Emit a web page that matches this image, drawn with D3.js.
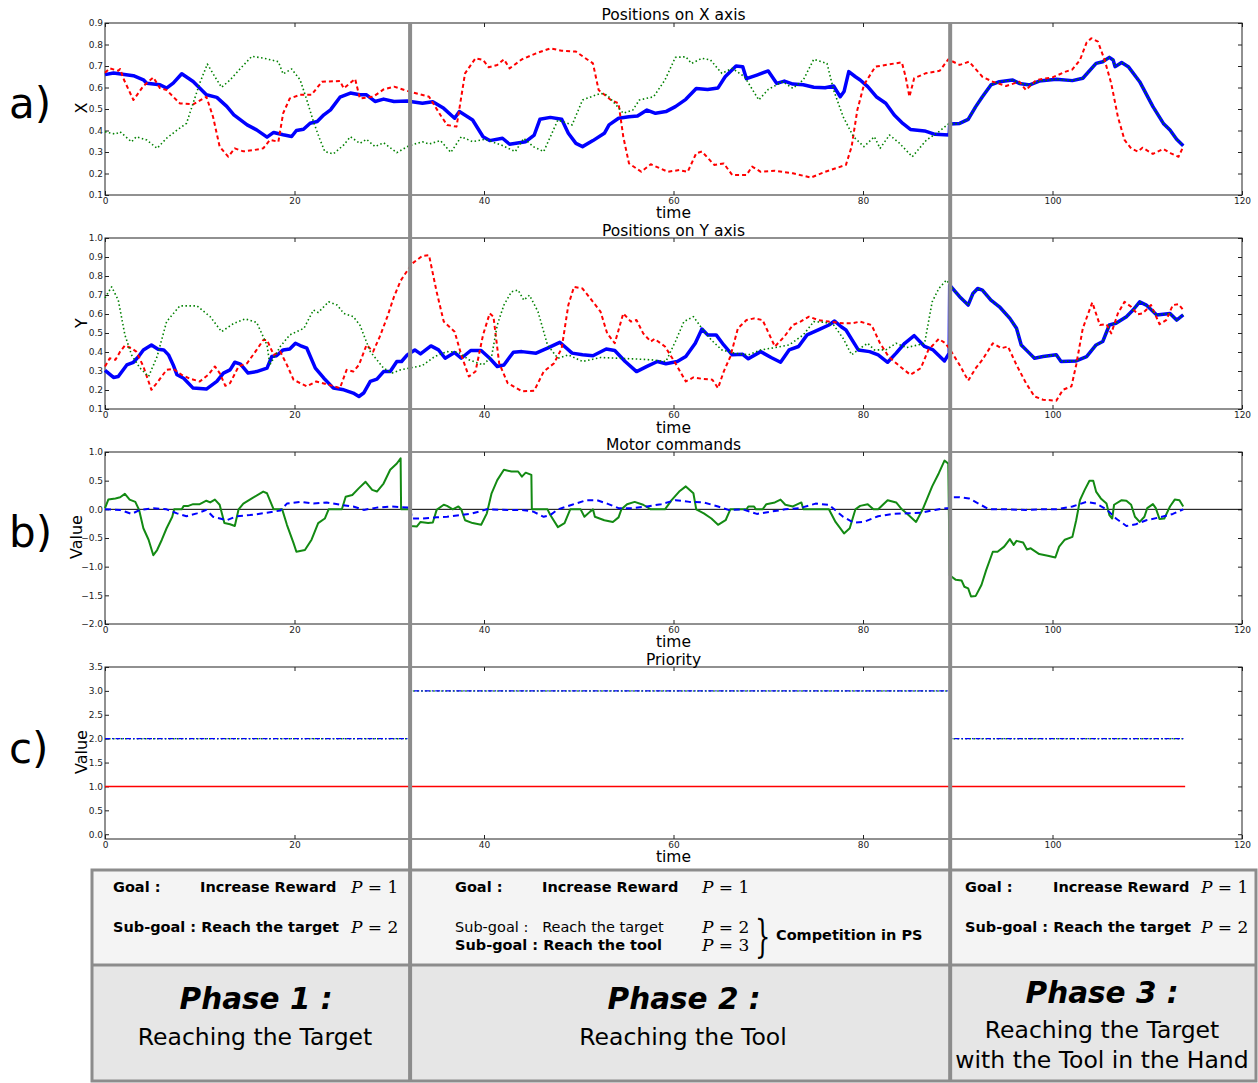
<!DOCTYPE html>
<html><head><meta charset="utf-8">
<script src="https://cdn.jsdelivr.net/npm/d3@7"></script>
<style>body{margin:0;background:#fff;} svg{display:block;font-family:"DejaVu Sans",sans-serif;}</style>
</head><body>
<svg id="c" width="1258" height="1083"></svg>
<script>
// ---------------- DATA ----------------
const xTicks = [0, 20, 40, 60, 80, 100, 120];
const ticksPosX = [0.1,0.2,0.3,0.4,0.5,0.6,0.7,0.8,0.9];
const ticksPosY = [0.1,0.2,0.3,0.4,0.5,0.6,0.7,0.8,0.9,1.0];
const ticksMotor = [-2.0,-1.5,-1.0,-0.5,0.0,0.5,1.0];
const ticksPrio = [0.0,0.5,1.0,1.5,2.0,2.5,3.0,3.5];
const phaseBounds = [32.2, 89.2];

// Positions on X axis  [time, value]
const xBlue = [[0,0.66],[0.9,0.667],[3.0,0.655],[4.05,0.636],[4.4,0.62],[5.8,0.613],[6.5,0.597],[7.2,0.62],[8.1,0.664],[9.3,0.628],[10.7,0.566],[11.8,0.554],[12.85,0.512],[13.6,0.473],[15.0,0.426],[16.0,0.403],[17.1,0.369],[17.8,0.391],[18.8,0.38],[19.7,0.372],[20.2,0.40],[20.95,0.406],[21.65,0.434],[22.4,0.442],[23.1,0.473],[23.8,0.496],[24.8,0.555],[25.9,0.574],[26.9,0.566],[27.6,0.566],[28.5,0.535],[29.4,0.546],[30.5,0.535],[31.9,0.537],[32.4,0.534],[33.5,0.527],[34.6,0.534],[35.75,0.503],[36.9,0.457],[37.4,0.488],[38.8,0.449],[39.9,0.371],[40.6,0.353],[41.95,0.364],[42.7,0.336],[44.4,0.348],[45.3,0.379],[45.9,0.452],[47.0,0.461],[48.2,0.452],[48.9,0.387],[49.7,0.340],[50.4,0.325],[51.5,0.353],[52.7,0.387],[53.2,0.426],[54.2,0.457],[55.3,0.464],[56.2,0.467],[57.2,0.495],[58.1,0.48],[59.2,0.488],[60.2,0.511],[61.3,0.545],[62.4,0.595],[63.6,0.591],[64.7,0.598],[65.45,0.65],[66.6,0.70],[67.3,0.697],[67.7,0.641],[68.8,0.658],[70.0,0.677],[70.9,0.619],[71.7,0.63],[72.6,0.616],[73.7,0.613],[74.8,0.601],[76.0,0.599],[76.9,0.607],[77.6,0.557],[78.0,0.581],[78.5,0.674],[79.2,0.65],[79.7,0.635],[80.5,0.604],[81.4,0.557],[82.4,0.527],[83.3,0.472],[84.2,0.433],[85.0,0.405],[86.5,0.398],[87.6,0.382],[89.1,0.379],[89.15,0.430],[90.2,0.433],[91.1,0.452],[91.9,0.511],[92.6,0.557],[93.5,0.612],[94.4,0.627],[95.8,0.635],[96.5,0.619],[97.6,0.612],[98.6,0.63],[100.4,0.638],[102.1,0.632],[103.2,0.643],[104.6,0.712],[105.3,0.72],[106.0,0.74],[106.4,0.728],[106.6,0.697],[107.3,0.716],[108.0,0.697],[109.2,0.627],[110.6,0.511],[111.7,0.433],[112.4,0.402],[113.1,0.359],[113.8,0.329]];
const xRed = [[0,0.669],[0.5,0.689],[1.4,0.678],[1.6,0.686],[2.0,0.636],[3.0,0.542],[4.05,0.607],[5.1,0.647],[5.8,0.597],[6.5,0.588],[7.9,0.526],[9.3,0.522],[10.7,0.557],[11.4,0.464],[12.1,0.325],[13.0,0.278],[13.7,0.317],[14.6,0.303],[15.7,0.309],[16.7,0.317],[17.4,0.356],[18.3,0.348],[18.8,0.48],[19.5,0.549],[20.6,0.566],[21.8,0.566],[22.9,0.627],[24.8,0.63],[25.2,0.596],[26.4,0.64],[26.9,0.549],[28.3,0.557],[29.4,0.591],[30.5,0.604],[32.2,0.58],[34.2,0.557],[35.4,0.472],[36.1,0.426],[37.1,0.418],[38.0,0.666],[39.1,0.736],[39.9,0.728],[40.5,0.694],[41.4,0.705],[42.1,0.731],[42.7,0.689],[44.0,0.731],[45.5,0.759],[47.0,0.782],[48.2,0.771],[49.7,0.767],[51.5,0.712],[52.1,0.588],[53.4,0.542],[54.2,0.526],[54.7,0.371],[55.3,0.247],[56.6,0.208],[57.6,0.243],[59.4,0.208],[60.6,0.216],[61.5,0.208],[62.4,0.294],[63.0,0.302],[64.3,0.24],[65.3,0.247],[66.2,0.193],[67.7,0.193],[68.3,0.232],[69.2,0.208],[70.7,0.213],[72.6,0.201],[74.5,0.181],[76.0,0.208],[78.2,0.24],[78.8,0.325],[79.4,0.495],[80.1,0.612],[81.3,0.697],[82.8,0.708],[84.1,0.717],[84.5,0.65],[84.9,0.557],[85.4,0.643],[86.6,0.666],[88.1,0.678],[89.0,0.731],[90.2,0.705],[91.2,0.72],[92.6,0.65],[93.7,0.627],[95.1,0.607],[96.5,0.627],[97.2,0.588],[98.3,0.635],[100.0,0.647],[101.4,0.674],[102.1,0.684],[102.9,0.728],[103.6,0.809],[104.1,0.829],[104.8,0.813],[105.5,0.728],[106.2,0.619],[106.9,0.464],[107.6,0.356],[108.3,0.317],[109.0,0.302],[109.5,0.32],[110.6,0.291],[111.7,0.314],[112.5,0.294],[113.3,0.278],[113.8,0.325]];
const xGreenP12 = [[0,0.394],[1.1,0.383],[1.6,0.394],[2.8,0.347],[3.3,0.371],[4.4,0.356],[5.5,0.317],[6.5,0.364],[7.6,0.402],[8.6,0.433],[9.3,0.527],[10.0,0.62],[10.8,0.709],[11.6,0.65],[12.3,0.601],[13.2,0.635],[14.3,0.689],[15.5,0.745],[16.7,0.737],[18.3,0.72],[18.8,0.663],[19.7,0.686],[20.6,0.635],[21.3,0.542],[22.0,0.441],[22.7,0.356],[23.2,0.302],[24.1,0.291],[25.2,0.333],[25.9,0.371],[26.9,0.34],[27.6,0.359],[28.5,0.325],[29.4,0.343],[30.8,0.297],[31.9,0.325],[32.4,0.333],[33.5,0.348],[34.2,0.337],[35.4,0.353],[36.5,0.298],[37.6,0.371],[38.8,0.348],[40.1,0.359],[41.8,0.333],[43.3,0.302],[44.2,0.364],[45.2,0.325],[46.3,0.302],[47.8,0.449],[49.3,0.426],[50.4,0.542],[52.3,0.573],[53.0,0.565],[53.8,0.526],[54.7,0.48],[55.7,0.495],[56.4,0.542],[57.9,0.557],[59.1,0.635],[60.2,0.74],[61.3,0.743],[61.9,0.712],[63.0,0.736],[63.9,0.728],[65.1,0.666],[66.2,0.689],[67.5,0.65],[69.0,0.542],[70.0,0.591],[71.5,0.627],[72.6,0.596],[73.7,0.635],[74.8,0.731],[76.2,0.712],[76.9,0.588],[77.9,0.464],[79.0,0.371],[80.1,0.325],[81.2,0.371],[81.8,0.317],[82.8,0.379],[83.8,0.343],[85.2,0.278],[86.7,0.356],[88.0,0.394],[89.0,0.43]];

// Positions on Y axis
const yBlue = [[0,0.303],[0.9,0.266],[1.4,0.271],[2.3,0.332],[3.0,0.346],[3.6,0.38],[4.05,0.411],[4.9,0.437],[5.6,0.415],[6.2,0.411],[6.7,0.385],[7.2,0.332],[7.6,0.28],[8.3,0.262],[9.3,0.21],[10.7,0.205],[11.8,0.245],[12.5,0.289],[13.2,0.306],[13.7,0.346],[14.3,0.336],[15.1,0.289],[16.0,0.297],[17.1,0.315],[17.6,0.376],[18.1,0.38],[18.8,0.411],[19.5,0.416],[20.1,0.446],[20.6,0.434],[21.3,0.42],[22.2,0.315],[23.1,0.262],[24.1,0.21],[25.2,0.201],[26.2,0.184],[26.8,0.166],[27.3,0.184],[28.0,0.245],[28.7,0.257],[29.4,0.297],[30.1,0.297],[30.8,0.35],[31.3,0.35],[31.9,0.385],[32.7,0.411],[33.3,0.39],[34.4,0.432],[35.2,0.411],[35.9,0.367],[36.9,0.397],[37.6,0.367],[38.6,0.408],[39.7,0.408],[40.6,0.367],[41.4,0.324],[42.1,0.332],[43.1,0.399],[44.0,0.402],[45.5,0.394],[46.7,0.42],[48.0,0.451],[49.3,0.394],[50.4,0.385],[51.5,0.38],[52.9,0.416],[53.8,0.408],[54.9,0.35],[56.1,0.297],[57.2,0.324],[58.3,0.35],[59.2,0.338],[60.4,0.35],[61.3,0.376],[62.3,0.446],[63.0,0.521],[63.6,0.49],[64.5,0.49],[65.3,0.437],[66.2,0.385],[67.3,0.388],[67.9,0.364],[69.2,0.402],[70.3,0.371],[71.3,0.346],[72.2,0.411],[73.2,0.429],[74.1,0.49],[75.4,0.519],[76.4,0.542],[77.0,0.563],[77.7,0.533],[78.2,0.516],[79.5,0.411],[80.7,0.402],[81.6,0.385],[82.6,0.346],[83.5,0.394],[84.4,0.446],[85.4,0.486],[86.5,0.429],[87.4,0.411],[88.6,0.353],[89.1,0.394],[89.15,0.752],[90.2,0.691],[91.1,0.647],[91.6,0.708],[92.1,0.734],[92.6,0.726],[93.5,0.673],[94.4,0.638],[95.5,0.577],[96.2,0.525],[96.7,0.437],[97.4,0.402],[98.1,0.367],[99.0,0.376],[100.4,0.385],[100.9,0.35],[102.5,0.353],[103.6,0.376],[104.6,0.437],[105.3,0.455],[106.0,0.542],[106.7,0.551],[107.8,0.586],[108.5,0.621],[109.2,0.664],[109.9,0.647],[111.0,0.595],[112.4,0.603],[113.1,0.568],[113.8,0.595]];
const yRed = [[0,0.324],[0.5,0.367],[1.1,0.359],[1.6,0.402],[2.1,0.434],[2.8,0.42],[3.3,0.402],[4.05,0.324],[4.9,0.201],[5.6,0.245],[6.5,0.306],[7.2,0.311],[8.1,0.28],[9.0,0.259],[10.0,0.245],[10.9,0.28],[11.6,0.324],[12.1,0.289],[12.7,0.222],[13.2,0.236],[14.1,0.324],[15.0,0.341],[16.0,0.411],[16.7,0.463],[17.1,0.463],[17.8,0.385],[18.5,0.402],[19.2,0.332],[19.9,0.254],[21.3,0.219],[22.3,0.245],[23.6,0.228],[24.8,0.21],[25.5,0.306],[26.2,0.297],[26.8,0.332],[27.6,0.437],[28.3,0.402],[29.0,0.481],[29.8,0.586],[30.5,0.691],[31.2,0.775],[32.4,0.865],[33.5,0.906],[34.2,0.909],[35.0,0.717],[35.75,0.56],[36.9,0.507],[37.6,0.385],[38.4,0.271],[39.1,0.297],[39.9,0.49],[40.6,0.603],[41.0,0.586],[41.6,0.341],[42.5,0.236],[44.0,0.193],[45.3,0.196],[46.3,0.297],[47.4,0.341],[48.2,0.42],[48.9,0.647],[49.5,0.743],[50.4,0.734],[51.5,0.664],[52.3,0.612],[53.0,0.498],[53.8,0.446],[54.7,0.603],[55.5,0.56],[56.1,0.568],[56.8,0.498],[57.6,0.455],[58.0,0.469],[59.1,0.429],[60.2,0.341],[61.3,0.245],[62.1,0.266],[63.0,0.259],[64.1,0.254],[64.7,0.21],[65.3,0.297],[66.0,0.376],[66.8,0.525],[67.7,0.568],[68.5,0.577],[69.4,0.568],[70.7,0.429],[71.7,0.481],[72.6,0.542],[73.4,0.56],[74.3,0.586],[75.3,0.568],[76.4,0.56],[77.9,0.551],[78.8,0.551],[79.7,0.56],[80.9,0.542],[81.8,0.446],[82.7,0.376],[83.9,0.324],[85.0,0.28],[86.1,0.315],[86.9,0.411],[88.0,0.469],[88.6,0.449],[89.1,0.42],[90.2,0.332],[91.1,0.249],[91.9,0.315],[92.6,0.359],[93.7,0.446],[94.6,0.42],[95.3,0.429],[96.2,0.332],[97.2,0.236],[98.1,0.166],[99.0,0.149],[100.4,0.144],[101.1,0.201],[102.0,0.219],[102.5,0.332],[103.2,0.525],[104.2,0.661],[105.0,0.542],[105.7,0.546],[106.2,0.498],[106.9,0.603],[107.6,0.664],[108.3,0.638],[109.0,0.598],[109.5,0.603],[110.4,0.647],[111.3,0.546],[112.0,0.568],[112.7,0.647],[113.3,0.652],[113.8,0.621]];
const yGreenP12 = [[0,0.685],[0.7,0.743],[1.4,0.673],[2.1,0.49],[2.8,0.385],[3.7,0.315],[4.6,0.271],[5.5,0.376],[6.5,0.56],[7.9,0.643],[9.7,0.643],[11.1,0.586],[12.3,0.507],[13.6,0.551],[14.8,0.574],[16.0,0.556],[17.1,0.437],[17.4,0.332],[18.5,0.429],[19.5,0.49],[21.0,0.525],[22.0,0.621],[22.5,0.608],[23.6,0.664],[24.5,0.647],[25.2,0.603],[26.2,0.586],[26.9,0.542],[28.0,0.402],[29.4,0.315],[30.3,0.289],[31.2,0.306],[32.4,0.318],[33.5,0.329],[34.8,0.376],[36.1,0.402],[37.3,0.399],[38.4,0.359],[39.9,0.332],[40.8,0.376],[41.4,0.542],[42.1,0.647],[42.9,0.717],[43.6,0.726],[44.2,0.673],[44.8,0.699],[45.7,0.612],[46.7,0.437],[47.8,0.367],[48.9,0.385],[50.4,0.35],[52.3,0.371],[54.2,0.367],[55.7,0.364],[57.6,0.359],[59.2,0.35],[60.2,0.455],[61.1,0.56],[62.1,0.586],[63.0,0.525],[64.0,0.463],[65.1,0.411],[66.4,0.394],[67.9,0.385],[69.2,0.411],[70.7,0.423],[72.2,0.437],[73.7,0.49],[74.8,0.56],[76.0,0.556],[76.9,0.542],[77.9,0.472],[78.8,0.385],[79.7,0.42],[80.5,0.446],[81.2,0.411],[82.4,0.411],[83.5,0.446],[84.6,0.423],[85.8,0.437],[86.5,0.446],[87.3,0.664],[88.0,0.734],[88.8,0.778],[89.1,0.761]];

// Motor commands
const mGreen = [[0,0.02],[0.35,0.17],[1.1,0.19],[1.6,0.21],[2.1,0.27],[2.6,0.17],[3.2,0.13],[3.6,-0.01],[4.05,-0.33],[4.6,-0.53],[5.1,-0.8],[5.5,-0.71],[6.0,-0.53],[6.5,-0.33],[7.1,-0.13],[7.3,0],[8.1,0],[8.3,0.06],[8.8,0.06],[9.3,0.09],[10.0,0.09],[10.7,0.15],[11.1,0.12],[11.6,0.17],[12.1,0.08],[12.6,-0.24],[13.2,-0.26],[13.7,-0.29],[14.1,0],[14.6,0.1],[15.5,0.19],[16.7,0.31],[17.1,0.28],[17.8,0],[18.7,0],[19.2,-0.27],[19.9,-0.59],[20.2,-0.74],[21.1,-0.71],[21.8,-0.53],[22.5,-0.24],[23.2,-0.16],[23.6,0],[25.0,0],[25.4,0.22],[26.1,0.25],[26.8,0.37],[27.5,0.48],[28.2,0.34],[28.7,0.31],[29.4,0.45],[30.1,0.69],[30.8,0.8],[31.2,0.89],[31.25,0],[32.2,0],[32.3,-0.29],[32.9,-0.3],[33.3,-0.22],[34.1,-0.24],[34.6,-0.23],[35.0,-0.01],[35.75,0.08],[36.1,0.06],[36.7,0],[37.3,0.05],[37.6,0],[38.0,-0.19],[38.8,-0.24],[39.7,-0.27],[40.3,-0.07],[40.8,0.28],[41.4,0.51],[42.1,0.69],[42.9,0.66],[43.6,0.66],[44.0,0.57],[44.4,0.64],[45.0,0.6],[45.05,0],[46.7,0],[47.0,-0.1],[47.8,-0.31],[48.5,-0.24],[49.1,0],[50.2,0],[50.6,-0.13],[51.2,-0.04],[51.5,0],[51.7,-0.13],[52.7,-0.19],[53.6,-0.22],[54.2,-0.14],[54.5,0],[55.1,0.09],[55.9,0.13],[56.8,0.08],[57.6,0],[59.1,0],[59.8,0.16],[60.6,0.31],[61.3,0.4],[62.1,0.28],[62.4,0],[63.2,-0.07],[64.0,-0.16],[64.7,-0.27],[65.5,-0.19],[66.0,0],[67.7,0],[67.9,0.05],[68.5,0.05],[68.7,0],[69.4,0],[69.8,0.09],[70.7,0.12],[71.3,0.17],[71.8,0.08],[72.6,0.05],[73.5,0.12],[73.7,0],[76.4,0],[77.1,-0.22],[78.0,-0.42],[78.6,-0.33],[79.2,0],[79.7,0.06],[80.5,0.09],[81.1,0],[81.6,0],[82.6,0.16],[83.5,0.12],[84.1,0],[84.6,-0.07],[85.6,-0.22],[86.3,0],[87.3,0.4],[88.0,0.63],[88.6,0.85],[89.0,0.8],[89.15,-1.15],[89.8,-1.23],[90.4,-1.24],[90.7,-1.35],[91.1,-1.38],[91.4,-1.52],[91.9,-1.51],[92.5,-1.32],[93.0,-1.06],[93.7,-0.74],[94.2,-0.74],[94.9,-0.65],[95.5,-0.52],[95.9,-0.62],[96.2,-0.55],[96.9,-0.58],[97.3,-0.7],[97.7,-0.68],[98.6,-0.78],[99.5,-0.81],[100.3,-0.84],[100.7,-0.65],[101.3,-0.53],[102.1,-0.48],[102.5,-0.19],[102.9,0.16],[103.4,0.34],[103.9,0.5],[104.3,0.5],[104.6,0.31],[105.1,0.19],[105.7,0.1],[106.0,-0.1],[106.3,-0.16],[106.5,0.08],[107.3,0.16],[107.8,0.15],[108.3,0.08],[108.7,-0.13],[109.2,-0.22],[109.7,-0.13],[110.0,0.02],[110.6,0.09],[110.9,0.02],[111.3,-0.17],[111.8,-0.16],[112.4,0.05],[112.9,0.17],[113.4,0.16],[113.8,0.05]];
const mBlue = [[0,0],[1.6,-0.01],[2.8,-0.08],[3.7,-0.01],[5.1,0.02],[6.5,0],[7.6,-0.07],[8.6,-0.12],[9.7,-0.07],[10.7,-0.01],[11.4,-0.13],[12.85,-0.19],[13.9,-0.12],[15.3,-0.1],[17.1,-0.06],[18.5,-0.02],[19.2,0.1],[20.6,0.13],[22.0,0.1],[23.4,0.12],[24.8,0.08],[26.2,0.05],[27.3,-0.01],[28.7,0.03],[30.1,0.05],[31.2,0.04],[32.2,0.03],[32.4,-0.16],[33.5,-0.16],[35.0,-0.14],[36.1,-0.13],[37.6,-0.1],[38.8,-0.07],[40.3,0],[42.5,-0.01],[44.0,-0.01],[45.2,-0.04],[46.3,-0.13],[47.0,-0.1],[47.8,0],[49.3,0.08],[50.8,0.16],[51.9,0.16],[53.0,0.1],[54.2,0.02],[55.7,0.02],[57.2,0.05],[58.7,0.09],[60.2,0.16],[61.7,0.13],[63.2,0.12],[64.7,0.05],[65.8,-0.01],[67.3,0],[68.8,-0.08],[70.3,-0.04],[71.8,0],[73.3,0.02],[75.0,0.1],[76.4,0.08],[77.9,-0.13],[79.0,-0.23],[80.1,-0.22],[81.6,-0.12],[83.1,-0.08],[84.6,-0.07],[86.1,-0.06],[87.6,-0.01],[88.8,0.02],[89.1,0.02],[89.15,0.21],[90.2,0.21],[91.2,0.19],[92.3,0.09],[93.3,0],[95.1,0],[97.2,-0.01],[98.6,0],[100.4,0],[102.1,0.05],[103.6,0.13],[104.6,0.1],[105.7,0],[106.7,-0.16],[107.8,-0.29],[108.8,-0.26],[109.9,-0.19],[111.3,-0.14],[112.7,-0.08],[113.8,0]];

// Priority (step values)
const pTimes = [0, 32.2, 89.2, 114];
const pGoal = [1, 1, 1, 1];
const pSubgoal = [2, 3, 2, 2];

// ---------------- DRAW ----------------
const svg = d3.select("#c");
const x = d3.scaleLinear().domain([0,120]).range([105,1242]);
const FONT = '"DejaVu Sans", sans-serif';

const xGreen = xGreenP12.concat(xBlue.filter(d => d[0] >= 89.15));
const yGreen = yGreenP12.concat(yBlue.filter(d => d[0] >= 89.15));

const panels = [
  {top:23, bottom:195, domain:[0.1,0.9], ticks:ticksPosX, title:"Positions on X axis", titleY:19.5, timeY:218, ylabel:"X", ylabelX:87, ylabelY:108},
  {top:238, bottom:409, domain:[0.1,1.0], ticks:ticksPosY, title:"Positions on Y axis", titleY:235.5, timeY:432.5, ylabel:"Y", ylabelX:87, ylabelY:323},
  {top:452, bottom:624, domain:[-2,1], ticks:ticksMotor, title:"Motor commands", titleY:450, timeY:647, ylabel:"Value", ylabelX:82, ylabelY:537},
  {top:667, bottom:839, domain:[-0.1,3.5], ticks:ticksPrio, title:"Priority", titleY:664.5, timeY:862, ylabel:"Value", ylabelX:87, ylabelY:752}
];

function styleAxis(g){
  g.select(".domain").remove();
  g.selectAll("text").attr("font-size", 9).attr("font-family", FONT).attr("fill", "#222");
  g.selectAll("line").attr("stroke", "#222");
}

const ys = panels.map(p => {
  const y = d3.scaleLinear().domain(p.domain).range([p.bottom, p.top]);
  const g = svg.append("g");
  g.append("g").attr("transform", `translate(0,${p.bottom})`)
    .call(d3.axisBottom(x).tickValues(xTicks).tickSizeInner(-4).tickSizeOuter(0).tickPadding(3).tickFormat(d3.format("d")))
    .call(styleAxis);
  g.append("g").attr("transform", `translate(0,${p.top})`)
    .call(d3.axisTop(x).tickValues(xTicks).tickSizeInner(-4).tickSizeOuter(0).tickFormat(""))
    .call(styleAxis);
  g.append("g").attr("transform", `translate(105,0)`)
    .call(d3.axisLeft(y).tickValues(p.ticks).tickSizeInner(-4).tickSizeOuter(0).tickPadding(2).tickFormat(d3.format(".1f")))
    .call(styleAxis);
  g.append("g").attr("transform", `translate(1242,0)`)
    .call(d3.axisRight(y).tickValues(p.ticks).tickSizeInner(-4).tickSizeOuter(0).tickFormat(""))
    .call(styleAxis);
  g.append("rect").attr("x", 105).attr("y", p.top).attr("width", 1242-105).attr("height", p.bottom-p.top)
    .attr("fill", "none").attr("stroke", "#222").attr("stroke-width", 1);
  svg.append("text").attr("x", 673.5).attr("y", p.titleY).attr("text-anchor", "middle")
    .attr("font-size", 15.5).attr("font-family", FONT).text(p.title);
  svg.append("text").attr("x", 673.5).attr("y", p.timeY).attr("text-anchor", "middle")
    .attr("font-size", 15.5).attr("font-family", FONT).text("time");
  svg.append("text").attr("transform", `translate(${p.ylabelX},${p.ylabelY}) rotate(-90)`).attr("text-anchor", "middle")
    .attr("font-size", 16).attr("font-family", FONT).text(p.ylabel);
  return y;
});

function drawLine(data, y, style, curve){
  const line = d3.line().x(d => x(d[0])).y(d => y(d[1]));
  if (curve) line.curve(curve);
  const path = svg.append("path").datum(data).attr("d", line).attr("fill", "none")
    .attr("stroke-linejoin", "round");
  Object.entries(style).forEach(([k, v]) => path.attr(k, v));
}

const sBlue = {"stroke":"#0000ff","stroke-width":3.5};
const sRed = {"stroke":"#ff0000","stroke-width":2,"stroke-dasharray":"4,3"};
const sGreen = {"stroke":"#008000","stroke-width":1.6,"stroke-dasharray":"1.5,2.5"};

// Panel a
drawLine(xBlue, ys[0], sBlue);
drawLine(xRed, ys[0], sRed);
drawLine(xGreen, ys[0], sGreen);
// Panel Y
drawLine(yBlue, ys[1], sBlue);
drawLine(yRed, ys[1], sRed);
drawLine(yGreen, ys[1], sGreen);
// Motor
svg.append("line").attr("x1", 105).attr("x2", 1242).attr("y1", ys[2](0)).attr("y2", ys[2](0)).attr("stroke", "#000").attr("stroke-width", 1);
drawLine(mGreen, ys[2], {"stroke":"#138a13","stroke-width":2});
drawLine(mBlue, ys[2], {"stroke":"#0000ff","stroke-width":2,"stroke-dasharray":"6,4"});
// Priority
const prioGoal = pTimes.map((t,i) => [t, pGoal[i]]);
const prioSub = pTimes.map((t,i) => [t, pSubgoal[i]]);
drawLine(prioGoal, ys[3], {"stroke":"#ff0000","stroke-width":1.6}, d3.curveStepAfter);
drawLine(prioSub, ys[3], {"stroke":"#008000","stroke-width":1.5,"stroke-dasharray":"1.5,2.5"}, d3.curveStepAfter);
drawLine(prioSub, ys[3], {"stroke":"#0000ff","stroke-width":1.3,"stroke-dasharray":"5,2,1.5,2"}, d3.curveStepAfter);

// Panel letters
[["a)",118],["b)",547],["c)",763]].forEach(([t, yy]) => {
  svg.append("text").attr("x", 9).attr("y", yy).attr("font-size", 42).attr("font-family", FONT).text(t);
});

// ---------------- TABLE ----------------
const tL = 92, tR = 1256, tT = 870, tM = 965, tB = 1081;
svg.append("rect").attr("x", tL).attr("y", tT).attr("width", tR-tL).attr("height", tM-tT).attr("fill", "#f4f4f4");
svg.append("rect").attr("x", tL).attr("y", tM).attr("width", tR-tL).attr("height", tB-tM).attr("fill", "#e6e6e6");
svg.append("rect").attr("x", tL).attr("y", tT).attr("width", tR-tL).attr("height", tB-tT).attr("fill", "none")
  .attr("stroke", "#8c8c8c").attr("stroke-width", 3);
svg.append("line").attr("x1", tL).attr("x2", tR).attr("y1", tM).attr("y2", tM).attr("stroke", "#8c8c8c").attr("stroke-width", 3);

// Phase separators (through the plots and table)
phaseBounds.forEach(t => {
  svg.append("line").attr("x1", x(t)).attr("x2", x(t)).attr("y1", 23).attr("y2", tB+1)
    .attr("stroke", "#8c8c8c").attr("stroke-width", 4);
});

function txt(str, xx, yy, opts){
  const o = Object.assign({size:14.5, weight:"normal", style:"normal", anchor:"start", family:FONT}, opts||{});
  return svg.append("text").attr("x", xx).attr("y", yy).attr("font-size", o.size).attr("font-weight", o.weight)
    .attr("font-style", o.style).attr("text-anchor", o.anchor).attr("font-family", o.family).attr("fill", "#000")
    .attr("xml:space", "preserve").style("white-space", "pre").text(str);
}
function mathP(n, xx, yy){
  const t = svg.append("text").attr("x", xx).attr("y", yy).attr("font-size", 17).attr("font-family", '"DejaVu Serif", serif');
  t.append("tspan").attr("font-style", "italic").text("P");
  t.append("tspan").text(" = " + n);
}
const B = {weight:"bold"};
// Column 1
txt("Goal :", 113, 892, B); txt("Increase Reward", 200, 892, B); mathP(1, 351, 893);
txt("Sub-goal : Reach the target", 113, 932, B); mathP(2, 351, 933);
// Column 2
txt("Goal :", 455, 892, B); txt("Increase Reward", 542, 892, B); mathP(1, 702, 893);
txt("Sub-goal :   Reach the target", 455, 932); mathP(2, 702, 933);
txt("Sub-goal : Reach the tool", 455, 950, B); mathP(3, 702, 951);
svg.append("text").attr("transform", "translate(755,952) scale(0.55,1)").attr("font-size", 44)
  .attr("font-family", '"DejaVu Serif", serif').attr("font-weight", "normal").text("}");
txt("Competition in PS", 776, 940, B);
// Column 3
txt("Goal :", 965, 892, B); txt("Increase Reward", 1053, 892, B); mathP(1, 1201, 893);
txt("Sub-goal : Reach the target", 965, 932, B); mathP(2, 1201, 933);

// Phase labels
txt("Phase 1 :", 256, 1009, {size:29.5, weight:"bold", style:"italic", anchor:"middle"});
txt("Reaching the Target", 255, 1045, {size:23.5, anchor:"middle"});
txt("Phase 2 :", 684, 1009, {size:29.5, weight:"bold", style:"italic", anchor:"middle"});
txt("Reaching the Tool", 683, 1045, {size:23.5, anchor:"middle"});
txt("Phase 3 :", 1102, 1003, {size:29.5, weight:"bold", style:"italic", anchor:"middle"});
txt("Reaching the Target", 1102, 1038, {size:23.5, anchor:"middle"});
txt("with the Tool in the Hand", 1102, 1068, {size:23.5, anchor:"middle"});
</script>
</body></html>
